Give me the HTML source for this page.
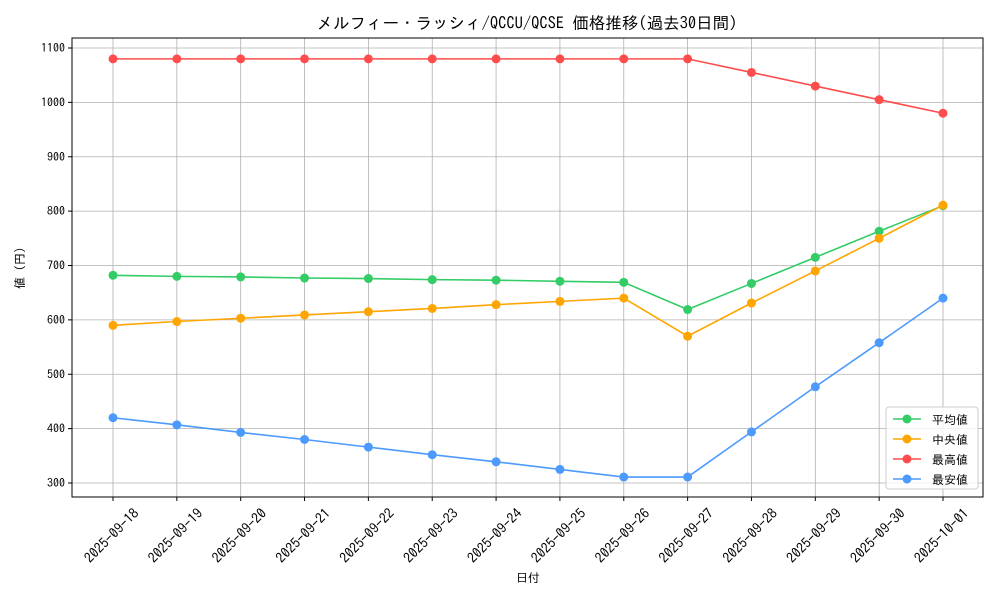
<!DOCTYPE html>
<html><head><meta charset="utf-8"><style>body{margin:0;background:#fff}svg text{font-family:"IPAGothic","Noto Sans CJK JP",sans-serif}</style></head>
<body><svg id="s" width="1000" height="600" xmlns="http://www.w3.org/2000/svg"></svg>
<script>
const s=document.getElementById('s');let h='';
const L=72,R=983,T=38,B=497;
const X=i=>113+i*63.846, Y=v=>483-(v-300)*0.54375;
const dates=["2025-09-18","2025-09-19","2025-09-20","2025-09-21","2025-09-22","2025-09-23","2025-09-24","2025-09-25","2025-09-26","2025-09-27","2025-09-28","2025-09-29","2025-09-30","2025-10-01"];
for(let v=300;v<=1100;v+=100){h+=`<line x1="${L}" x2="${R}" y1="${Y(v)}" y2="${Y(v)}" stroke="#b0b0b0" stroke-width="0.8"/><line x1="${L-4}" x2="${L}" y1="${Y(v)}" y2="${Y(v)}" stroke="#000"/><text x="${L-7}" y="${Y(v)+4}" font-size="12" text-anchor="end">${v}</text>`;}
dates.forEach((d,i)=>{h+=`<line y1="${T}" y2="${B}" x1="${X(i)}" x2="${X(i)}" stroke="#b0b0b0" stroke-width="0.8"/><line y1="${B}" y2="${B+4}" x1="${X(i)}" x2="${X(i)}" stroke="#000"/><text font-size="14" text-anchor="middle" transform="translate(${X(i)+2},${B+42}) rotate(-45)">${d}</text>`;});
const S=[["#33cc66",[682,680,679,677,676,674,673,671,669,619,667,715,763,810]],["#ffa500",[590,597,603,609,615,621,628,634,640,570,631,690,750,811]],["#ff4d4d",[1080,1080,1080,1080,1080,1080,1080,1080,1080,1080,1055,1030,1005,980]],["#4d9aff",[420,407,393,380,366,352,339,325,311,311,394,477,558,640]]];
S.forEach(([c,d])=>{h+=`<polyline fill="none" stroke="${c}" stroke-width="1.6" points="${d.map((v,i)=>X(i)+','+Y(v)).join(' ')}"/>`;d.forEach((v,i)=>h+=`<circle cx="${X(i)}" cy="${Y(v)}" r="4.5" fill="${c}"/>`);});
h+=`<rect x="${L}" y="${T}" width="${R-L}" height="${B-T}" fill="none" stroke="#000" stroke-width="1"/>`;
h+=`<text x="527" y="29" font-size="16.5" text-anchor="middle">メルフィー・ラッシィ/QCCU/QCSE 価格推移(過去30日間)</text>`;
h+=`<text x="528" y="582" font-size="12" text-anchor="middle">日付</text>`;
h+=`<text font-size="12" text-anchor="middle" transform="translate(24,268) rotate(-90)">値 (円)</text>`;
h+=`<rect x="886" y="407" width="92" height="82" rx="3" fill="#fff" fill-opacity="0.8" stroke="#ccc"/>`;
["平均値","中央値","最高値","最安値"].forEach((t,i)=>{const y=419+i*20;h+=`<line x1="893" x2="921" y1="${y}" y2="${y}" stroke="${S[i][0]}" stroke-width="1.6"/><circle cx="907" cy="${y}" r="4.5" fill="${S[i][0]}"/><text x="932" y="${y+5}" font-size="12">${t}</text>`;});
s.innerHTML=h;
</script></body></html>
